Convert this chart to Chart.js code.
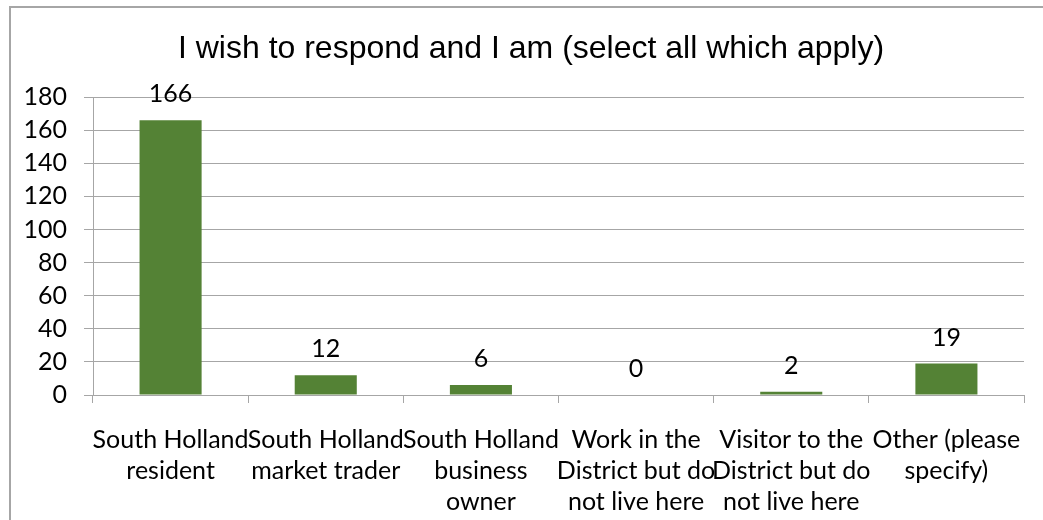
<!DOCTYPE html>
<html lang="en">
<head>
    <meta charset="UTF-8">
    <title>I wish to respond and I am</title>
    <script src="https://cdn.jsdelivr.net/npm/chart.js"></script>
    <style>
        html, body { margin: 0; padding: 0; background: #fff; overflow: hidden; width: 1043px; height: 520px; }
        #frame { position: absolute; left: 9px; top: 6px; width: 1100px; height: 600px;
                 border-top: 2px solid #a6a6a6; border-left: 2px solid #a6a6a6; }
        #myChart { position: absolute; left: 0; top: 0; }
    </style>
</head>
<body>
    <div id="frame"></div>
    <canvas id="myChart" width="1043" height="520"></canvas>

    <script>
        // chart data
        const chartTitle = 'I wish to respond and I am (select all which apply)';
        const categories = [
            ['South Holland', 'resident'],
            ['South Holland', 'market trader'],
            ['South Holland', 'business', 'owner'],
            ['Work in the', 'District but do', 'not live here'],
            ['Visitor to the', 'District but do', 'not live here'],
            ['Other (please', 'specify)']
        ];
        const responses = [166, 12, 6, 0, 2, 19];
        const yTicks = [0, 20, 40, 60, 80, 100, 120, 140, 160, 180];

        const barGreen = '#548235';
        const gridGrey = '#a6a6a6';
        const bodyFont = 'Lato';

        // value labels above the bars
        const valueLabels = {
            id: 'valueLabels',
            afterDatasetsDraw(chart) {
                const ctx = chart.ctx;
                const meta = chart.getDatasetMeta(0);
                ctx.save();
                ctx.font = '25px ' + bodyFont;
                ctx.fillStyle = '#000';
                ctx.textAlign = 'center';
                ctx.textBaseline = 'middle';
                meta.data.forEach((bar, i) => {
                    ctx.fillText(String(responses[i]), bar.x, bar.y - 26);
                });
                ctx.restore();
            }
        };

        // the original chart is cropped on the right, so its title sits a bit right of centre
        const offsetTitle = {
            id: 'offsetTitle',
            afterDraw(chart) {
                const ctx = chart.ctx;
                ctx.save();
                ctx.font = '32px "Liberation Sans"';
                ctx.fillStyle = '#000';
                ctx.textAlign = 'center';
                ctx.textBaseline = 'middle';
                ctx.fillText(chartTitle, 531, 49);
                ctx.restore();
            }
        };

        const ctx = document.getElementById('myChart').getContext('2d');
        const myChart = new Chart(ctx, {
            type: 'bar',
            data: {
                labels: categories,
                datasets: [{
                    data: responses,
                    backgroundColor: barGreen,
                    borderWidth: 0,
                    categoryPercentage: 1,
                    barPercentage: 0.4
                }]
            },
            options: {
                responsive: false,
                animation: false,
                devicePixelRatio: 1,
                layout: { padding: { left: 0, right: 19, top: 97, bottom: 0 } },
                plugins: {
                    legend: { display: false },
                    tooltip: { enabled: false },
                    title: { display: false }
                },
                scales: {
                    x: {
                        grid: { drawOnChartArea: false, color: gridGrey, tickLength: 8, offset: true },
                        border: { color: gridGrey, width: 1 },
                        ticks: {
                            color: '#000',
                            maxRotation: 0,
                            autoSkip: false,
                            padding: 21,
                            font: { family: bodyFont, size: 25, lineHeight: 1.24 }
                        },
                        afterFit(scale) { scale.height = 125; }
                    },
                    y: {
                        min: 0,
                        max: 180,
                        afterBuildTicks(scale) { scale.ticks = yTicks.map(v => ({ value: v })); },
                        grid: { color: gridGrey, tickLength: 9 },
                        border: { color: gridGrey, width: 1 },
                        ticks: {
                            color: '#000',
                            padding: 17,
                            font: { family: bodyFont, size: 25 }
                        },
                        afterFit(scale) { scale.width = 93; }
                    }
                }
            },
            plugins: [valueLabels, offsetTitle]
        });
    </script>
</body>
</html>
